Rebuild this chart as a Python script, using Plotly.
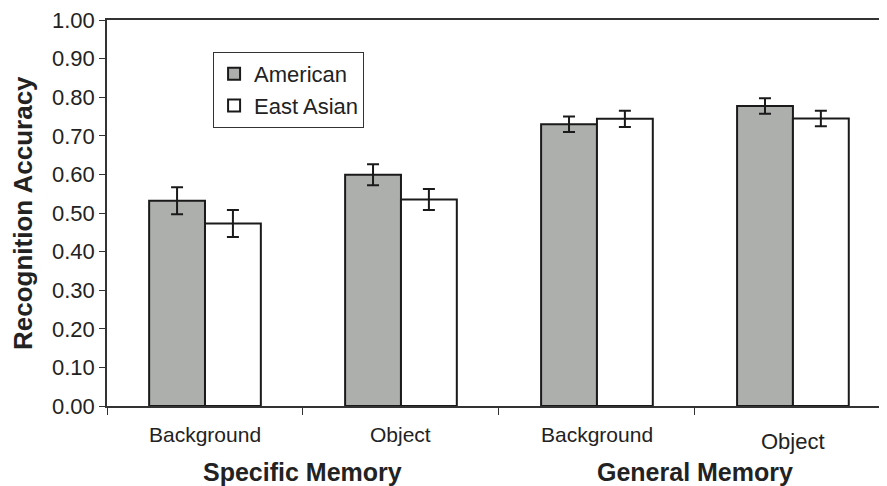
import plotly.graph_objects as go

categories = ["Specific Background", "Specific Object", "General Background", "General Object"]
cat_labels = ["Background", "Object", "Background", "Object"]
group_labels = ["Specific Memory", "General Memory"]
american = [0.532, 0.599, 0.730, 0.777]
american_err = [0.035, 0.027, 0.020, 0.020]
east_asian = [0.473, 0.535, 0.744, 0.745]
east_asian_err = [0.035, 0.027, 0.021, 0.020]

FONT = "Liberation Sans, Arial, Helvetica, sans-serif"
DARK = "#1a1a1a"

fig = go.Figure()
fig.add_trace(go.Bar(
    name="American", x=categories, y=american,
    marker=dict(color="#adafad", line=dict(color=DARK, width=2)),
    error_y=dict(type="data", array=american_err, color=DARK, thickness=2, width=6),
))
fig.add_trace(go.Bar(
    name="East Asian", x=categories, y=east_asian,
    marker=dict(color="white", line=dict(color=DARK, width=2)),
    error_y=dict(type="data", array=east_asian_err, color=DARK, thickness=2, width=6),
))

annotations = []
label_shift = [0, 0, 0, -7]
label_size = [21, 21, 21, 22]
for i, (c, lab) in enumerate(zip(categories, cat_labels)):
    annotations.append(dict(
        x=c, xref="x", y=0, yref="paper", text=lab, showarrow=False,
        yanchor="middle", yshift=-28 + label_shift[i],
        font=dict(family=FONT, size=label_size[i], color="#222"),
    ))
for xpos, g in zip([0.5, 2.5], group_labels):
    annotations.append(dict(
        x=xpos, xref="x", y=0, yref="paper", text="<b>" + g + "</b>", showarrow=False,
        yanchor="middle", yshift=-66,
        font=dict(family=FONT, size=25, color="#222"),
    ))
annotations.append(dict(
    x=0, xref="paper", y=0.5, yref="paper", text="<b>Recognition Accuracy</b>",
    showarrow=False, textangle=-90, xanchor="center", yanchor="middle", xshift=-84,
    font=dict(family=FONT, size=26, color="#222"),
))

fig.update_layout(
    width=879, height=478,
    margin=dict(l=99, r=0, t=8, b=80),
    paper_bgcolor="white", plot_bgcolor="white",
    barmode="group", bargap=0.43, bargroupgap=0,
    font=dict(family=FONT, color="#222"),
    showlegend=True,
    legend=dict(
        x=0.136, y=0.917, xanchor="left", yanchor="top",
        bordercolor="#333", borderwidth=1, bgcolor="white",
        font=dict(family=FONT, size=22, color="#222"),
        tracegroupgap=0, itemwidth=30,
    ),
    annotations=annotations,
)
fig.update_xaxes(
    range=[-0.5, 3.48], showticklabels=False,
    showline=True, linecolor="#333", linewidth=1.5, mirror=True,
    ticks="outside", tickson="boundaries", ticklen=7, tickcolor="#333",
    showgrid=False, zeroline=False,
)
fig.update_yaxes(
    range=[0, 1], dtick=0.1, tickformat=".2f",
    showline=True, linecolor="#333", linewidth=1.5,
    ticks="outside", ticklen=6, tickcolor="#333",
    showgrid=False, zeroline=False, ticklabeloverflow="allow",
    tickfont=dict(family=FONT, size=22, color="#222"),
)

fig.write_html("out.html")
